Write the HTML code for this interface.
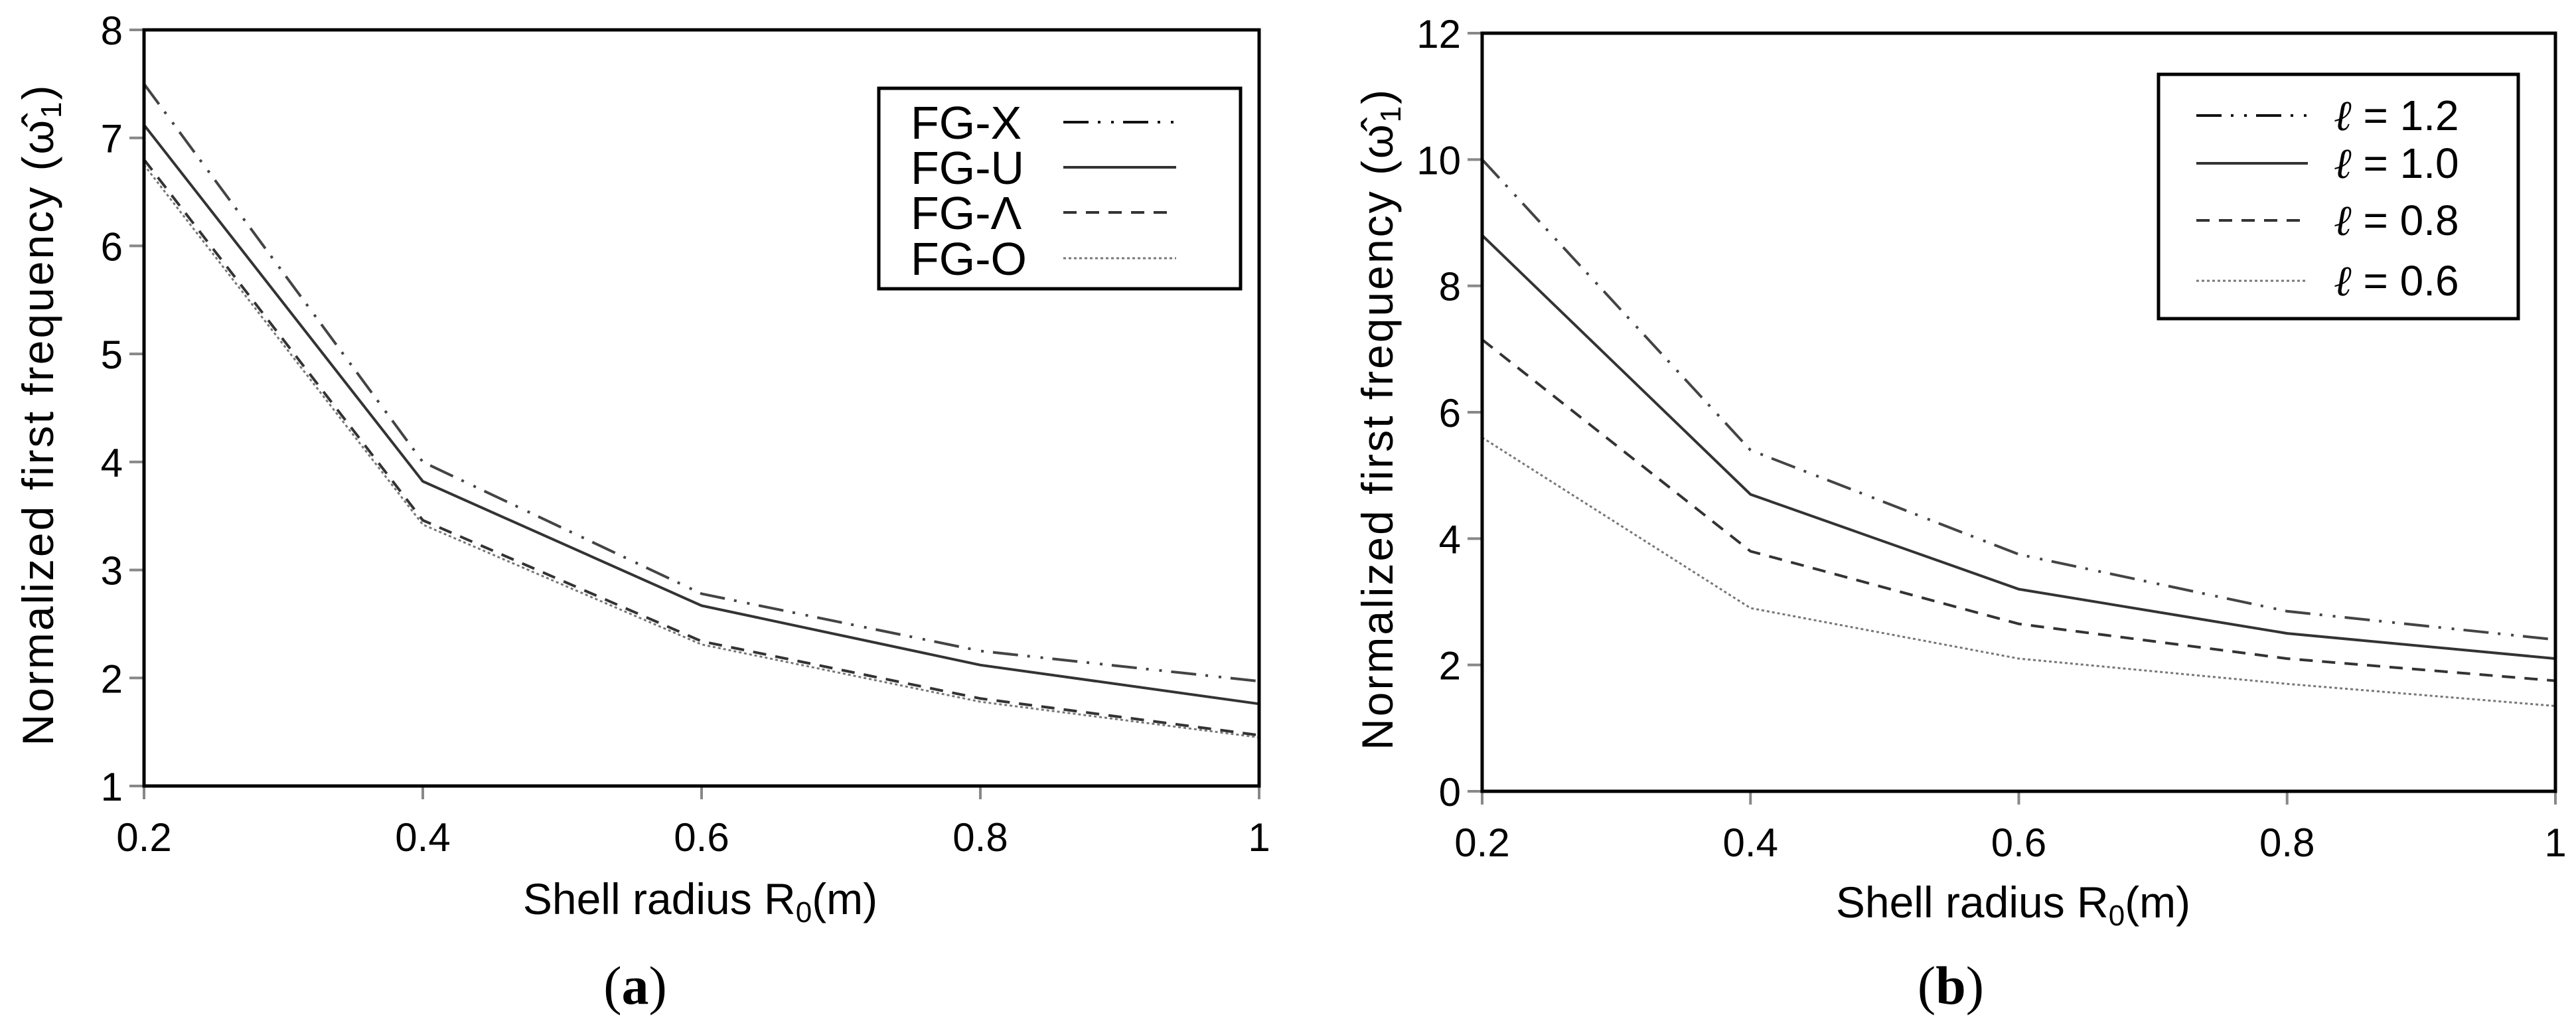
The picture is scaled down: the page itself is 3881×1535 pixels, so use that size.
<!DOCTYPE html>
<html><head><meta charset="utf-8"><style>
html,body{margin:0;padding:0;background:#fff;}
svg{display:block;}
text{font-family:"Liberation Sans",sans-serif;fill:#000;}
</style></head><body>
<svg id="fig" width="3881" height="1535" viewBox="0 0 3881 1535" xmlns="http://www.w3.org/2000/svg"></svg>
<script>
const xCats = [0.2, 0.4, 0.6, 0.8, 1.0];
const xTickLabels = ["0.2", "0.4", "0.6", "0.8", "1"];
// Chart (a)
const aTicks = [1, 2, 3, 4, 5, 6, 7, 8];
const aNames = ["FG-X", "FG-U", "FG-\u039B", "FG-O"];
const aFGX = [7.5, 4.0, 2.78, 2.25, 1.97];
const aFGU = [7.12, 3.82, 2.67, 2.12, 1.76];
const aFGL = [6.8, 3.46, 2.34, 1.81, 1.47];
const aFGO = [6.75, 3.42, 2.31, 1.78, 1.45];
// Chart (b)
const bTicks = [0, 2, 4, 6, 8, 10, 12];
const bNames = ["1.2", "1.0", "0.8", "0.6"];
const bL12 = [10.0, 5.4, 3.75, 2.85, 2.4];
const bL10 = [8.8, 4.7, 3.2, 2.5, 2.1];
const bL08 = [7.15, 3.8, 2.65, 2.1, 1.75];
const bL06 = [5.6, 2.9, 2.1, 1.7, 1.35];

const NS = "http://www.w3.org/2000/svg";
const svg = document.getElementById("fig");
function mk(tag, attrs, parent) {
  const e = document.createElementNS(NS, tag);
  for (const k in attrs) e.setAttribute(k, attrs[k]);
  (parent || svg).appendChild(e);
  return e;
}
const styles = [
  {dash: "38 14 4 16 4 14", color: "#444", w: 4},
  {dash: "", color: "#333", w: 4},
  {dash: "20 14", color: "#333", w: 4},
  {dash: "4 4", color: "#777", w: 3}
];

function drawChart(cfg) {
  const g = mk("g", {});
  
  
  const L = cfg.L, R = cfg.R, T = cfg.T, B = cfg.B;
  const xs = v => L + (v - 0.2) / 0.8 * (R - L);
  const ys = v => B - (v - cfg.ymin) / (cfg.ymax - cfg.ymin) * (B - T);
  cfg.yTicks.forEach(t => {
    const ln = mk("line", {x1: L - 22, x2: L, y1: ys(t), y2: ys(t), stroke: "#888", "stroke-width": 4}, g);
    
    
    const tx = mk("text", {x: L - 32, y: ys(t) + 22, "text-anchor": "end", "font-size": 60}, g);
    tx.textContent = String(t);
    
    
  });
  xCats.forEach((c, i) => {
    const ln = mk("line", {x1: xs(c), x2: xs(c), y1: B, y2: B + 20, stroke: "#888", "stroke-width": 4}, g);
    
    
    const tx = mk("text", {x: xs(c), y: B + cfg.xlabOff, "text-anchor": "middle", "font-size": 60}, g);
    tx.textContent = xTickLabels[i];
    
    
  });
  cfg.series.forEach((s, i) => {
    const st = styles[i];
    const pts = xCats.map((c, j) => xs(c).toFixed(1) + "," + ys(s[j]).toFixed(1)).join(" ");
    const pl = mk("polyline", {points: pts, fill: "none", stroke: st.color, "stroke-width": st.w, "stroke-dasharray": st.dash}, g);
    
    
  });
  const fr = mk("rect", {x: L, y: T, width: R - L, height: B - T, fill: "none", stroke: "#000", "stroke-width": 5}, g);
  
  
  const yt = mk("text", {x: 0, y: 0, "text-anchor": "middle", "font-size": 66, "letter-spacing": 3,
    transform: "translate(" + cfg.ytX + "," + ((T + B) / 2 + 10) + ") rotate(-90)"}, g);
  yt.textContent = "Normalized first frequency (\u03C9\u0302";
  const sub = mk("tspan", {"font-size": 44, dy: 12}, yt);
  sub.textContent = "1";
  const cl = mk("tspan", {dy: -12}, yt);
  cl.textContent = ")";
  
  
  const xt = mk("text", {x: cfg.xtX, y: cfg.xtY, "text-anchor": "middle", "font-size": 66}, g);
  xt.textContent = "Shell radius  R";
  const s0 = mk("tspan", {"font-size": 44, dy: 12}, xt);
  s0.textContent = "0";
  const s1 = mk("tspan", {dy: -12}, xt);
  s1.textContent = "(m)";
  
  
  const pl = mk("text", {x: cfg.lblX, y: 1512, "text-anchor": "middle", "font-size": 82, style: "font-family:'Liberation Serif',serif"}, g);
  pl.textContent = "(";
  const bb = mk("tspan", {"font-weight": "bold"}, pl);
  bb.textContent = cfg.lbl;
  const pc = mk("tspan", {}, pl);
  pc.textContent = ")";
  
  
  return g;
}

const gA = drawChart({name: "chart-a", L: 217, R: 1897, T: 45, B: 1184, ymin: 1, ymax: 8,
  yTicks: aTicks, series: [aFGX, aFGU, aFGL, aFGO], seriesKeys: ["fg-x", "fg-u", "fg-lambda", "fg-o"],
  ytX: 80, xtX: 1055, xtY: 1377, lblX: 957, lbl: "a", xlabOff: 98});
const gB = drawChart({name: "chart-b", L: 2233, R: 3850, T: 50, B: 1192, ymin: 0, ymax: 12,
  yTicks: bTicks, series: [bL12, bL10, bL08, bL06], seriesKeys: ["l-1-2", "l-1-0", "l-0-8", "l-0-6"],
  ytX: 2098, xtX: 3033, xtY: 1382, lblX: 2939, lbl: "b", xlabOff: 98});

const legA = mk("g", {}, gA);


mk("rect", {x: 1324, y: 133, width: 545, height: 302, fill: "#fff", stroke: "#000", "stroke-width": 5}, legA);
const aRows = [184, 252, 320, 389];
aNames.forEach((n, i) => {
  const e = mk("g", {}, legA);
  
  
  const t = mk("text", {x: 1372, y: aRows[i] + 25, "font-size": 70}, e);
  t.textContent = n;
  const st = styles[i];
  mk("line", {x1: 1602, x2: 1772, y1: aRows[i], y2: aRows[i], stroke: i === 0 ? "#111" : st.color, "stroke-width": st.w, "stroke-dasharray": st.dash}, e);
});
const legB = mk("g", {}, gB);


mk("rect", {x: 3252, y: 112, width: 542, height: 368, fill: "#fff", stroke: "#000", "stroke-width": 5}, legB);
const bRows = [174, 246, 332, 423];
bNames.forEach((n, i) => {
  const e = mk("g", {}, legB);
  
  
  const st = styles[i];
  mk("line", {x1: 3309, x2: 3477, y1: bRows[i], y2: bRows[i], stroke: i === 0 ? "#111" : st.color, "stroke-width": st.w, "stroke-dasharray": st.dash}, e);
  const t = mk("text", {x: 3516, y: bRows[i] + 22, "font-size": 64}, e);
  const it = mk("tspan", {"font-style": "italic", style: "font-family:'Liberation Serif',serif"}, t);
  it.textContent = "\u2113";
  const rest = mk("tspan", {}, t);
  rest.textContent = " = " + n;
});
</script>
</body></html>
